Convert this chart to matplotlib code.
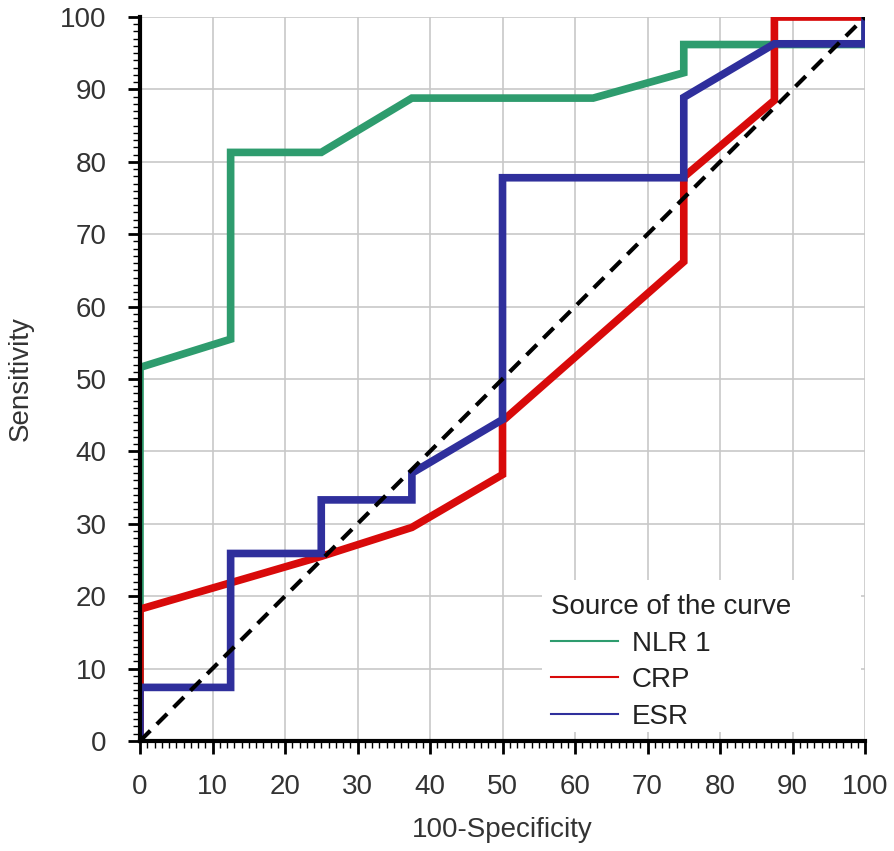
import matplotlib
matplotlib.use("Agg")
import matplotlib.pyplot as plt
from matplotlib.lines import Line2D
from matplotlib.patches import Rectangle
from matplotlib.ticker import MultipleLocator

plt.rcParams['font.family'] = ['Liberation Sans', 'DejaVu Sans']

# roc curves (x = 100-specificity, y = sensitivity)
nlr_x = [0, 0, 12.5, 12.5, 25, 37.5, 62.5, 75, 75, 87.5, 100, 100]
nlr_y = [0, 51.6, 55.5, 81.3, 81.3, 88.8, 88.8, 92.3, 96.2, 96.2, 96.2, 100]

crp_x = [0, 0, 25, 37.5, 50, 50, 75, 75, 87.5, 87.5, 100]
crp_y = [0, 18.2, 25.5, 29.5, 36.8, 44.2, 66.2, 77.9, 88.5, 100, 100]

esr_x = [0, 0, 12.5, 12.5, 25, 25, 37.5, 37.5, 50, 50, 75, 75, 87.5, 100, 100]
esr_y = [0, 7.4, 7.4, 25.9, 25.9, 33.3, 33.3, 37.0, 44.4, 77.8, 77.8, 88.9, 96.3, 96.3, 100]

names = ['NLR 1', 'CRP', 'ESR']
colors = ['#2e9c6e', '#d80a0a', '#2f2f9c']

fig = plt.figure(figsize=(8.94, 8.51), dpi=100)
ax = fig.add_axes([0.1566, 0.1293, 0.8110, 0.8507])

ax.plot(nlr_x, nlr_y, color=colors[0], lw=5.5, solid_joinstyle='miter', zorder=3)
ax.plot(crp_x, crp_y, color=colors[1], lw=5.5, solid_joinstyle='miter', zorder=4)
ax.plot(esr_x, esr_y, color=colors[2], lw=5.5, solid_joinstyle='miter', zorder=5)
ax.plot([0, 100], [0, 100], color='black', lw=3, ls=(0, (3.5, 2.2)), zorder=6)

ax.set_xlim(0, 100)
ax.set_ylim(0, 100)
ax.xaxis.set_major_locator(MultipleLocator(10))
ax.yaxis.set_major_locator(MultipleLocator(10))
ax.xaxis.set_minor_locator(MultipleLocator(1))
ax.yaxis.set_minor_locator(MultipleLocator(1))
ax.grid(True, which='major', color='#c8c8c8', lw=1.2, zorder=0)
ax.tick_params(which='major', length=9, width=2, direction='out', labelsize=20, colors='black')
ax.tick_params(which='minor', length=5, width=1, direction='out')
ax.tick_params(axis='x', pad=15)
ax.tick_params(axis='y', pad=15)
for lab in ax.get_yticklabels() + ax.get_xticklabels():
    lab.set_color('#333333')

for s in ['top', 'right']:
    ax.spines[s].set_visible(False)
for s in ['left', 'bottom']:
    ax.spines[s].set_linewidth(3)
    ax.spines[s].set_zorder(7)

ax.set_xlabel('100-Specificity', fontsize=20, color='#333333', labelpad=12)
ax.set_ylabel('Sensitivity', fontsize=20, color='#333333', labelpad=19)

# white patch behind the legend hides the grid there
ax.add_patch(Rectangle((0.555, 0.012), 0.44, 0.21, transform=ax.transAxes,
                       facecolor='white', edgecolor='none', zorder=2))

handles = [Line2D([0], [0], color=c, lw=1.5) for c in colors]
leg = ax.legend(handles, names, title='Source of the curve', loc='upper left',
                bbox_to_anchor=(0.567, 0.203), frameon=False,
                fontsize=20, title_fontsize=20,
                handlelength=2.4, handletextpad=0.5, labelspacing=0.38,
                borderpad=0.0, borderaxespad=0.0)
leg._legend_box.align = 'left'
leg.set_zorder(10)
for t in leg.get_texts():
    t.set_color('#222222')
leg.get_title().set_color('#222222')

fig.savefig('out.png', dpi=100)
